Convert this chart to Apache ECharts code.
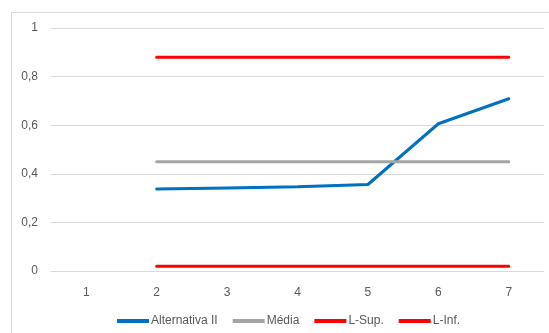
<!DOCTYPE html>
<html>
<head>
<meta charset="utf-8">
<script src="https://cdn.jsdelivr.net/npm/echarts@6/dist/echarts.min.js"></script>
<style>
  html, body { margin: 0; padding: 0; background: #fff; }
  #chart { width: 549px; height: 333px; position: relative; }
  #frame { position: absolute; left: 11px; top: 12px; width: 560px; height: 340px;
           border: 1px solid #d9d9d9; pointer-events: none; }
</style>
</head>
<body>
<div id="chart"></div>
<div id="frame"></div>
<script>
// categorias do eixo x
var categorias = ['1', '2', '3', '4', '5', '6', '7'];
// séries (o ponto 1 não tem valor)
var alternativa = [null, 0.337, 0.342, 0.347, 0.356, 0.606, 0.709];
var media = [null, 0.45, 0.45, 0.45, 0.45, 0.45, 0.45];
var lSup = [null, 0.88, 0.88, 0.88, 0.88, 0.88, 0.88];
var lInf = [null, 0.02, 0.02, 0.02, 0.02, 0.02, 0.02];

var fonte = '"Liberation Sans", Arial, sans-serif';
var cinzaTexto = '#595959';

function serie(nome, dados, cor) {
  return {
    name: nome,
    type: 'line',
    data: dados,
    symbol: 'none',
    silent: true,
    lineStyle: { color: cor, width: 3, cap: 'round' },
    itemStyle: { color: cor }
  };
}

var myChart = echarts.init(document.getElementById('chart'), null, { renderer: 'canvas' });
var option = {
  animation: false,
  grid: { left: 51, right: 5, top: 28, bottom: 62 },
  legend: {
    left: 112,
    top: 310,
    icon: 'rect',
    itemWidth: 32,
    itemHeight: 4,
    itemGap: 15,
    textStyle: { color: cinzaTexto, fontSize: 12, fontFamily: fonte, padding: [0, 0, 0, -3] },
    data: ['Alternativa II', 'Média', 'L-Sup.', 'L-Inf.']
  },
  xAxis: {
    type: 'category',
    data: categorias,
    boundaryGap: true,
    axisLine: { show: true, lineStyle: { color: '#d9d9d9', width: 1 } },
    axisTick: { show: false },
    axisLabel: { color: cinzaTexto, fontSize: 12, fontFamily: fonte, margin: 16 }
  },
  yAxis: {
    type: 'value',
    min: 0,
    max: 1,
    interval: 0.2,
    axisLine: { show: false },
    axisTick: { show: false },
    splitLine: { lineStyle: { color: '#d9d9d9', width: 1 } },
    axisLabel: {
      color: cinzaTexto, fontSize: 12, fontFamily: fonte, margin: 13,
      formatter: function (v) { return String(Math.round(v * 10) / 10).replace('.', ','); }
    }
  },
  series: [
    serie('Alternativa II', alternativa, '#0070c0'),
    serie('Média', media, '#a5a5a5'),
    serie('L-Sup.', lSup, '#ff0000'),
    serie('L-Inf.', lInf, '#ff0000')
  ]
};
myChart.setOption(option);
</script>
</body>
</html>
